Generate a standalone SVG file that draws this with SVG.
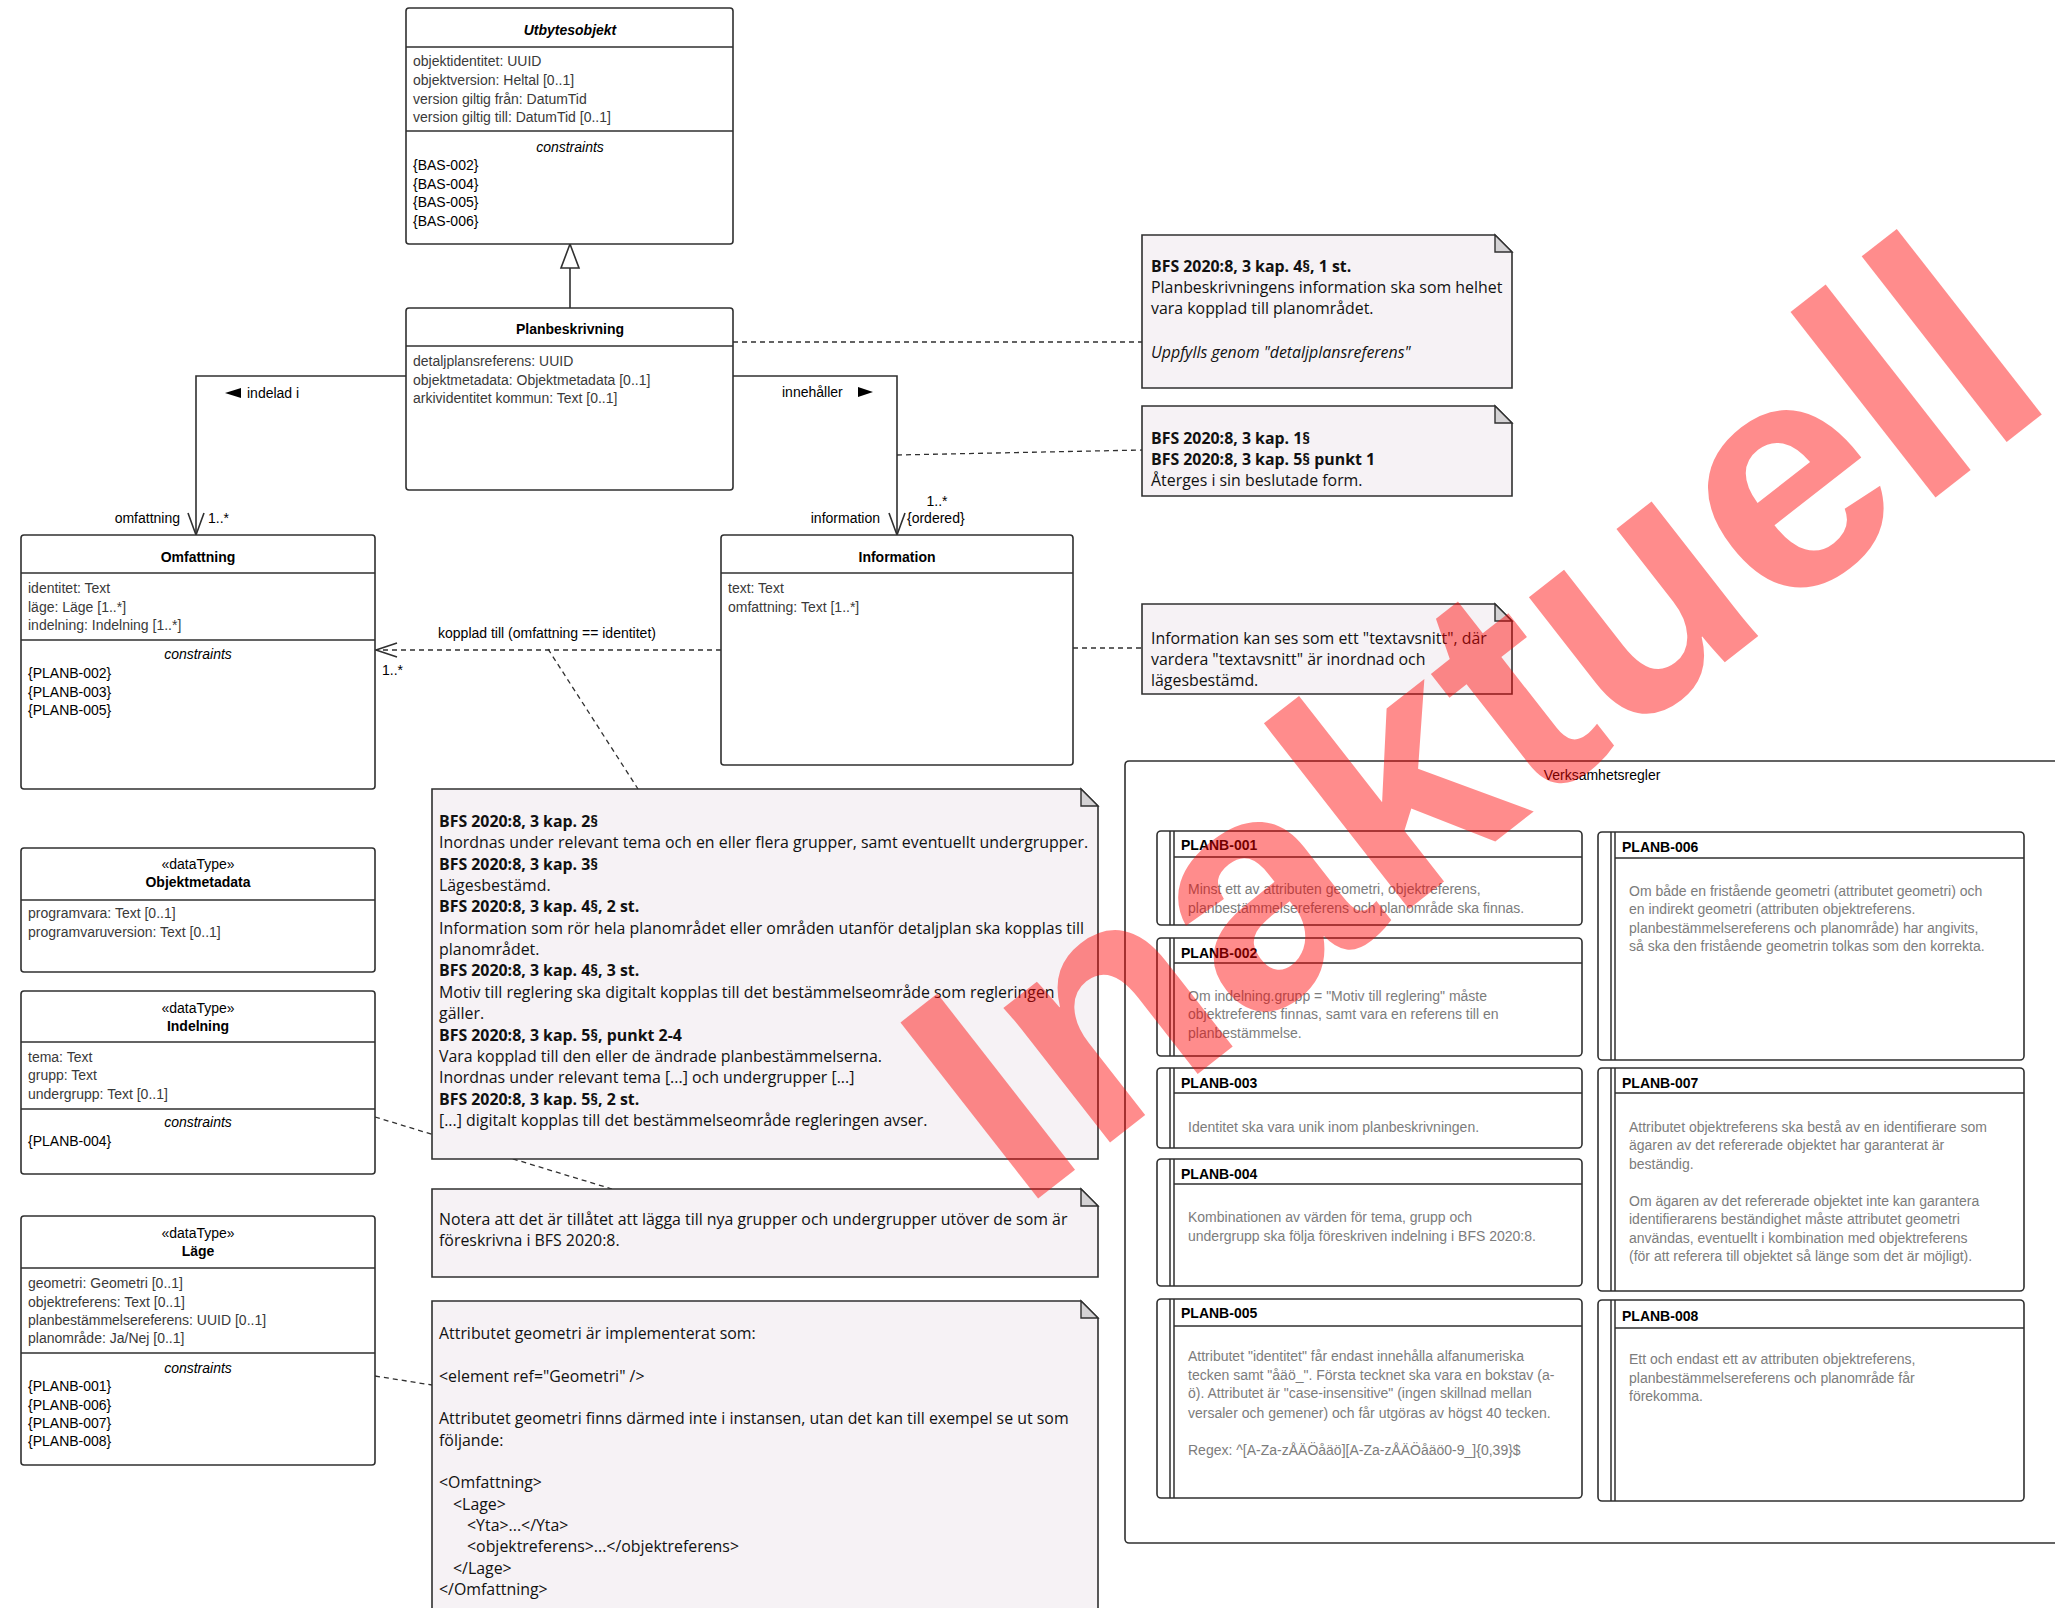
<svg xmlns="http://www.w3.org/2000/svg" width="2055" height="1608" viewBox="0 0 2055 1608">
<style>
.box{fill:#fff;stroke:#303030;stroke-width:1.6}
.ln{stroke:#303030;stroke-width:1.5;fill:none}
.t{font-family:"Liberation Sans",Arial,sans-serif;font-size:14px;fill:#000}
.a{fill:#3a3a3a}
.b{font-weight:bold}
.i{font-style:italic}
.c{text-anchor:middle}
.e{text-anchor:end}
.note{fill:#f6f2f5;stroke:#303030;stroke-width:1.6}
.fold{fill:#d4d2d4;stroke:#303030;stroke-width:1.4}
.nt{font-family:"Open Sans","Noto Sans",sans-serif;font-size:15.9px;fill:#111}
.rt{fill:#7c7c7c}
.dash{stroke:#303030;stroke-width:1.3;fill:none;stroke-dasharray:5,4}
.solid{stroke:#303030;stroke-width:1.6;fill:none}
.wm{font-family:"Liberation Sans",Arial,sans-serif;font-weight:bold;font-size:325px;fill:#ff0000;fill-opacity:0.45}
</style>

<g id="connectors">
  <path class="solid" d="M570,308 V268"/>
  <polygon points="570,244 561,268 579,268" fill="#fff" stroke="#303030" stroke-width="1.6"/>
  <path class="solid" d="M406,376 H196 V535"/>
  <path class="solid" d="M188,513 L196,535 L204,513"/>
  <path class="solid" d="M733,376 H897 V535"/>
  <path class="solid" d="M889,513 L897,535 L905,513"/>
  <path class="dash" d="M721,650 H376"/>
  <path class="solid" d="M397,643 L376,650 L397,657" stroke-width="1.4"/>
  <path class="dash" d="M733,342 H1142"/>
  <path class="dash" d="M897,455 L1142,450"/>
  <path class="dash" d="M1073,648 H1142"/>
  <path class="dash" d="M548,649 L638,789"/>
  <path class="dash" d="M375,1117 L612,1189"/>
  <path class="dash" d="M375,1376 L432,1385"/>
  <polygon points="225,393 241,388 241,398" fill="#000"/>
  <text class="t" x="247" y="398">indelad i</text>
  <text class="t" x="782" y="397">innehåller</text>
  <polygon points="873,392 858,387 858,397" fill="#000"/>
  <text class="t e" x="180" y="523">omfattning</text>
  <text class="t" x="208" y="523">1..*</text>
  <text class="t e" x="880" y="523">information</text>
  <text class="t c" x="937" y="506">1..*</text>
  <text class="t" x="907" y="523">{ordered}</text>
  <text class="t c" x="547" y="638">kopplad till (omfattning == identitet)</text>
  <text class="t" x="382" y="675">1..*</text>
</g>

<g id="utbytesobjekt">
  <rect class="box" x="406" y="8" width="327" height="236" rx="3"/>
  <path class="ln" d="M406,47 H733 M406,131 H733"/>
  <text class="t b i c" x="570" y="35">Utbytesobjekt</text>
  <text class="t a" x="413" y="66">objektidentitet: UUID</text>
  <text class="t a" x="413" y="85">objektversion: Heltal [0..1]</text>
  <text class="t a" x="413" y="104">version giltig från: DatumTid</text>
  <text class="t a" x="413" y="122">version giltig till: DatumTid [0..1]</text>
  <text class="t i c" x="570" y="152">constraints</text>
  <text class="t" x="413" y="170">{BAS-002}</text>
  <text class="t" x="413" y="189">{BAS-004}</text>
  <text class="t" x="413" y="207">{BAS-005}</text>
  <text class="t" x="413" y="226">{BAS-006}</text>
</g>

<g id="planbeskrivning">
  <rect class="box" x="406" y="308" width="327" height="182" rx="3"/>
  <path class="ln" d="M406,346 H733"/>
  <text class="t b c" x="570" y="334">Planbeskrivning</text>
  <text class="t a" x="413" y="366">detaljplansreferens: UUID</text>
  <text class="t a" x="413" y="385">objektmetadata: Objektmetadata [0..1]</text>
  <text class="t a" x="413" y="403">arkividentitet kommun: Text [0..1]</text>
</g>

<g id="omfattning">
  <rect class="box" x="21" y="535" width="354" height="254" rx="3"/>
  <path class="ln" d="M21,573 H375 M21,640 H375"/>
  <text class="t b c" x="198" y="562">Omfattning</text>
  <text class="t a" x="28" y="593">identitet: Text</text>
  <text class="t a" x="28" y="612">läge: Läge [1..*]</text>
  <text class="t a" x="28" y="630">indelning: Indelning [1..*]</text>
  <text class="t i c" x="198" y="659">constraints</text>
  <text class="t" x="28" y="678">{PLANB-002}</text>
  <text class="t" x="28" y="697">{PLANB-003}</text>
  <text class="t" x="28" y="715">{PLANB-005}</text>
</g>

<g id="information">
  <rect class="box" x="721" y="535" width="352" height="230" rx="3"/>
  <path class="ln" d="M721,573 H1073"/>
  <text class="t b c" x="897" y="562">Information</text>
  <text class="t a" x="728" y="593">text: Text</text>
  <text class="t a" x="728" y="612">omfattning: Text [1..*]</text>
</g>

<g id="objektmetadata">
  <rect class="box" x="21" y="848" width="354" height="124" rx="3"/>
  <path class="ln" d="M21,900 H375"/>
  <text class="t c" x="198" y="869">«dataType»</text>
  <text class="t b c" x="198" y="887">Objektmetadata</text>
  <text class="t a" x="28" y="918">programvara: Text [0..1]</text>
  <text class="t a" x="28" y="937">programvaruversion: Text [0..1]</text>
</g>

<g id="indelning">
  <rect class="box" x="21" y="991" width="354" height="183" rx="3"/>
  <path class="ln" d="M21,1042 H375 M21,1109 H375"/>
  <text class="t c" x="198" y="1013">«dataType»</text>
  <text class="t b c" x="198" y="1031">Indelning</text>
  <text class="t a" x="28" y="1062">tema: Text</text>
  <text class="t a" x="28" y="1080">grupp: Text</text>
  <text class="t a" x="28" y="1099">undergrupp: Text [0..1]</text>
  <text class="t i c" x="198" y="1127">constraints</text>
  <text class="t" x="28" y="1146">{PLANB-004}</text>
</g>

<g id="lage">
  <rect class="box" x="21" y="1216" width="354" height="249" rx="3"/>
  <path class="ln" d="M21,1268 H375 M21,1353 H375"/>
  <text class="t c" x="198" y="1238">«dataType»</text>
  <text class="t b c" x="198" y="1256">Läge</text>
  <text class="t a" x="28" y="1288">geometri: Geometri [0..1]</text>
  <text class="t a" x="28" y="1307">objektreferens: Text [0..1]</text>
  <text class="t a" x="28" y="1325">planbestämmelsereferens: UUID [0..1]</text>
  <text class="t a" x="28" y="1343">planområde: Ja/Nej [0..1]</text>
  <text class="t i c" x="198" y="1373">constraints</text>
  <text class="t" x="28" y="1391">{PLANB-001}</text>
  <text class="t" x="28" y="1410">{PLANB-006}</text>
  <text class="t" x="28" y="1428">{PLANB-007}</text>
  <text class="t" x="28" y="1446">{PLANB-008}</text>
</g>

<g id="note-planomrade">
  <path class="note" d="M1142,235 H1495 L1512,252 V388 H1142 Z"/>
  <path class="fold" d="M1495,235 V252 H1512 Z"/>
  <text class="nt b" x="1151" y="272">BFS 2020:8, 3 kap. 4§, 1 st.</text>
  <text class="nt" x="1151" y="293">Planbeskrivningens information ska som helhet</text>
  <text class="nt" x="1151" y="314">vara kopplad till planområdet.</text>
  <text class="nt i" x="1151" y="358">Uppfylls genom "detaljplansreferens"</text>
</g>

<g id="note-beslutade">
  <path class="note" d="M1142,406 H1495 L1512,423 V496 H1142 Z"/>
  <path class="fold" d="M1495,406 V423 H1512 Z"/>
  <text class="nt b" x="1151" y="444">BFS 2020:8, 3 kap. 1§</text>
  <text class="nt b" x="1151" y="465">BFS 2020:8, 3 kap. 5§ punkt 1</text>
  <text class="nt" x="1151" y="486">Återges i sin beslutade form.</text>
</g>

<g id="note-textavsnitt">
  <path class="note" d="M1142,604 H1495 L1512,621 V694 H1142 Z"/>
  <path class="fold" d="M1495,604 V621 H1512 Z"/>
  <text class="nt" x="1151" y="644">Information kan ses som ett "textavsnitt", där</text>
  <text class="nt" x="1151" y="665">vardera "textavsnitt" är inordnad och</text>
  <text class="nt" x="1151" y="686">lägesbestämd.</text>
</g>

<g id="note-bfs">
  <path class="note" d="M432,789 H1081 L1098,806 V1159 H432 Z"/>
  <path class="fold" d="M1081,789 V806 H1098 Z"/>
  <text class="nt b" x="439" y="827">BFS 2020:8, 3 kap. 2§</text>
  <text class="nt" x="439" y="848">Inordnas under relevant tema och en eller flera grupper, samt eventuellt undergrupper.</text>
  <text class="nt b" x="439" y="870">BFS 2020:8, 3 kap. 3§</text>
  <text class="nt" x="439" y="891">Lägesbestämd.</text>
  <text class="nt b" x="439" y="912">BFS 2020:8, 3 kap. 4§, 2 st.</text>
  <text class="nt" x="439" y="934">Information som rör hela planområdet eller områden utanför detaljplan ska kopplas till</text>
  <text class="nt" x="439" y="955">planområdet.</text>
  <text class="nt b" x="439" y="976">BFS 2020:8, 3 kap. 4§, 3 st.</text>
  <text class="nt" x="439" y="998">Motiv till reglering ska digitalt kopplas till det bestämmelseområde som regleringen</text>
  <text class="nt" x="439" y="1019">gäller.</text>
  <text class="nt b" x="439" y="1041">BFS 2020:8, 3 kap. 5§, punkt 2-4</text>
  <text class="nt" x="439" y="1062">Vara kopplad till den eller de ändrade planbestämmelserna.</text>
  <text class="nt" x="439" y="1083">Inordnas under relevant tema [...] och undergrupper [...]</text>
  <text class="nt b" x="439" y="1105">BFS 2020:8, 3 kap. 5§, 2 st.</text>
  <text class="nt" x="439" y="1126">[...] digitalt kopplas till det bestämmelseområde regleringen avser.</text>
</g>

<g id="note-grupper">
  <path class="note" d="M432,1189 H1081 L1098,1206 V1277 H432 Z"/>
  <path class="fold" d="M1081,1189 V1206 H1098 Z"/>
  <text class="nt" x="439" y="1225">Notera att det är tillåtet att lägga till nya grupper och undergrupper utöver de som är</text>
  <text class="nt" x="439" y="1246">föreskrivna i BFS 2020:8.</text>
</g>

<g id="note-geometri">
  <path class="note" d="M432,1301 H1081 L1098,1318 V1620 H432 Z"/>
  <path class="fold" d="M1081,1301 V1318 H1098 Z"/>
  <text class="nt" x="439" y="1339">Attributet geometri är implementerat som:</text>
  <text class="nt" x="439" y="1382">&lt;element ref="Geometri" /&gt;</text>
  <text class="nt" x="439" y="1424">Attributet geometri finns därmed inte i instansen, utan det kan till exempel se ut som</text>
  <text class="nt" x="439" y="1446">följande:</text>
  <text class="nt" x="439" y="1488">&lt;Omfattning&gt;</text>
  <text class="nt" x="453" y="1510">&lt;Lage&gt;</text>
  <text class="nt" x="467" y="1531">&lt;Yta&gt;...&lt;/Yta&gt;</text>
  <text class="nt" x="467" y="1552">&lt;objektreferens&gt;...&lt;/objektreferens&gt;</text>
  <text class="nt" x="453" y="1574">&lt;/Lage&gt;</text>
  <text class="nt" x="439" y="1595">&lt;/Omfattning&gt;</text>
</g>

<g id="verksamhetsregler">
  <rect x="1125" y="761" width="950" height="782" rx="4" fill="#fff" stroke="#303030" stroke-width="1.6"/>
  <text class="t c" x="1602" y="780">Verksamhetsregler</text>
</g>

<g id="planb-001">
  <rect class="box" x="1157" y="831" width="425" height="94" rx="4"/>
  <path class="ln" d="M1170,831 V925 M1174,831 V925 M1174,857 H1582"/>
  <text class="t b" x="1181" y="850">PLANB-001</text>
  <text class="t rt" x="1188" y="894">Minst ett av attributen geometri, objektreferens,</text>
  <text class="t rt" x="1188" y="913">planbestämmelsereferens och planområde ska finnas.</text>
</g>
<g id="planb-002">
  <rect class="box" x="1157" y="938" width="425" height="118" rx="4"/>
  <path class="ln" d="M1170,938 V1056 M1174,938 V1056 M1174,963 H1582"/>
  <text class="t b" x="1181" y="958">PLANB-002</text>
  <text class="t rt" x="1188" y="1001">Om indelning.grupp = "Motiv till reglering" måste</text>
  <text class="t rt" x="1188" y="1019">objektreferens finnas, samt vara en referens till en</text>
  <text class="t rt" x="1188" y="1038">planbestämmelse.</text>
</g>
<g id="planb-003">
  <rect class="box" x="1157" y="1068" width="425" height="80" rx="4"/>
  <path class="ln" d="M1170,1068 V1148 M1174,1068 V1148 M1174,1093 H1582"/>
  <text class="t b" x="1181" y="1088">PLANB-003</text>
  <text class="t rt" x="1188" y="1132">Identitet ska vara unik inom planbeskrivningen.</text>
</g>
<g id="planb-004">
  <rect class="box" x="1157" y="1159" width="425" height="127" rx="4"/>
  <path class="ln" d="M1170,1159 V1286 M1174,1159 V1286 M1174,1184 H1582"/>
  <text class="t b" x="1181" y="1179">PLANB-004</text>
  <text class="t rt" x="1188" y="1222">Kombinationen av värden för tema, grupp och</text>
  <text class="t rt" x="1188" y="1241">undergrupp ska följa föreskriven indelning i BFS 2020:8.</text>
</g>
<g id="planb-005">
  <rect class="box" x="1157" y="1299" width="425" height="199" rx="4"/>
  <path class="ln" d="M1170,1299 V1498 M1174,1299 V1498 M1174,1326 H1582"/>
  <text class="t b" x="1181" y="1318">PLANB-005</text>
  <text class="t rt" x="1188" y="1361">Attributet "identitet" får endast innehålla alfanumeriska</text>
  <text class="t rt" x="1188" y="1380">tecken samt "åäö_". Första tecknet ska vara en bokstav (a-</text>
  <text class="t rt" x="1188" y="1398">ö). Attributet är "case-insensitive" (ingen skillnad mellan</text>
  <text class="t rt" x="1188" y="1418">versaler och gemener) och får utgöras av högst 40 tecken.</text>
  <text class="t rt" x="1188" y="1455">Regex: ^[A-Za-zÅÄÖåäö][A-Za-zÅÄÖåäö0-9_]{0,39}$</text>
</g>
<g id="planb-006">
  <rect class="box" x="1598" y="832" width="426" height="228" rx="4"/>
  <path class="ln" d="M1611,832 V1060 M1615,832 V1060 M1615,858 H2024"/>
  <text class="t b" x="1622" y="852">PLANB-006</text>
  <text class="t rt" x="1629" y="896">Om både en fristående geometri (attributet geometri) och</text>
  <text class="t rt" x="1629" y="914">en indirekt geometri (attributen objektreferens.</text>
  <text class="t rt" x="1629" y="933">planbestämmelsereferens och planområde) har angivits,</text>
  <text class="t rt" x="1629" y="951">så ska den fristående geometrin tolkas som den korrekta.</text>
</g>
<g id="planb-007">
  <rect class="box" x="1598" y="1068" width="426" height="223" rx="4"/>
  <path class="ln" d="M1611,1068 V1291 M1615,1068 V1291 M1615,1093 H2024"/>
  <text class="t b" x="1622" y="1088">PLANB-007</text>
  <text class="t rt" x="1629" y="1132">Attributet objektreferens ska bestå av en identifierare som</text>
  <text class="t rt" x="1629" y="1150">ägaren av det refererade objektet har garanterat är</text>
  <text class="t rt" x="1629" y="1169">beständig.</text>
  <text class="t rt" x="1629" y="1206">Om ägaren av det refererade objektet inte kan garantera</text>
  <text class="t rt" x="1629" y="1224">identifierarens beständighet måste attributet geometri</text>
  <text class="t rt" x="1629" y="1243">användas, eventuellt i kombination med objektreferens</text>
  <text class="t rt" x="1629" y="1261">(för att referera till objektet så länge som det är möjligt).</text>
</g>
<g id="planb-008">
  <rect class="box" x="1598" y="1300" width="426" height="201" rx="4"/>
  <path class="ln" d="M1611,1300 V1501 M1615,1300 V1501 M1615,1328 H2024"/>
  <text class="t b" x="1622" y="1321">PLANB-008</text>
  <text class="t rt" x="1629" y="1364">Ett och endast ett av attributen objektreferens,</text>
  <text class="t rt" x="1629" y="1383">planbestämmelsereferens och planområde får</text>
  <text class="t rt" x="1629" y="1401">förekomma.</text>
</g>

<g id="watermark">
  <text class="wm" transform="translate(1021,1212) rotate(-38)">Inaktuell</text>
</g>
</svg>
